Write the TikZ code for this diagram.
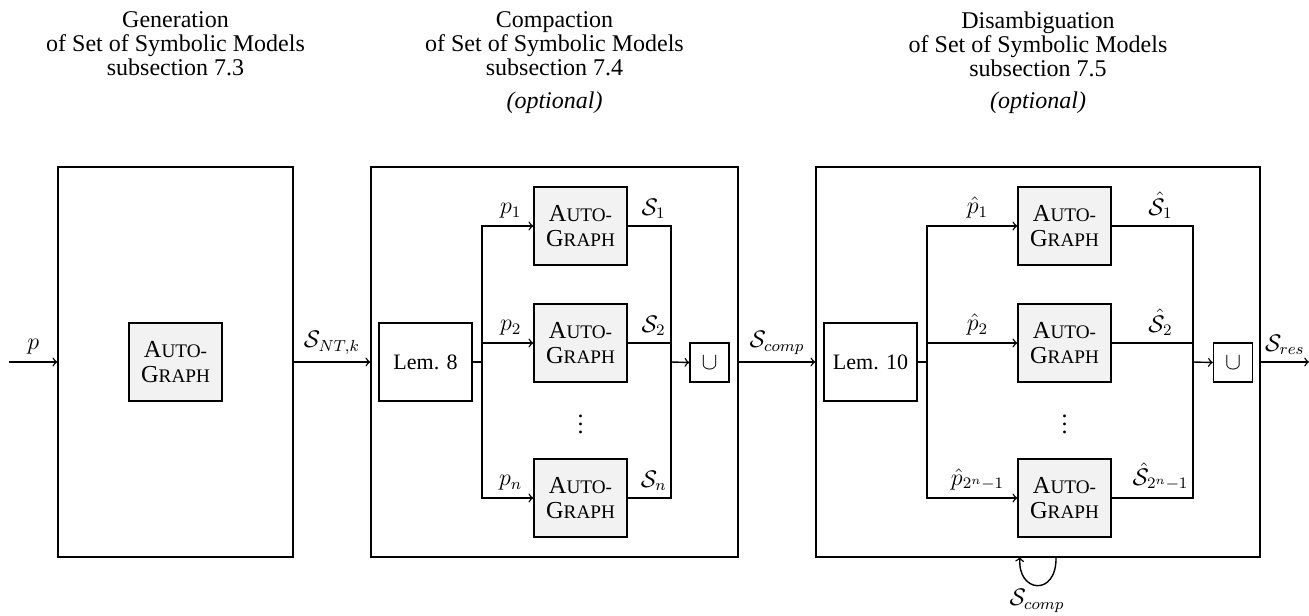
\documentclass[tikz,border=0pt]{standalone}
\usepackage{fontspec}
\setmainfont{Liberation Serif}

\newcommand{\smcp}{\fontsize{9.6}{10}\selectfont}
\newcommand{\autograph}{A{\smcp UTO-}\\G{\smcp RAPH}}

\tikzset{
  stage/.style={draw, minimum width=#1, minimum height=195pt, inner sep=0pt},
  algo/.style={draw, fill=black!5, minimum width=46.5pt, minimum height=39pt,
    align=center, inner sep=0pt, font=\fontsize{12.2}{12.8}\selectfont},
  lemma/.style={draw, minimum width=46.5pt, minimum height=39pt, inner sep=0pt,
    font=\fontsize{11}{13}\selectfont},
  union/.style={draw, minimum size=19.5pt, inner sep=0pt},
  heading/.style={align=center, font=\fontsize{12}{12}\selectfont},
}

\begin{document}
\begin{tikzpicture}[x=0.5pt, y=-0.5pt, >=to, line width=0.7pt,
    font=\fontsize{12}{14}\selectfont]
  \useasboundingbox (0,0) rectangle (1309,615);

  % headings
  \node[heading] (hd1) at (175.5,44) {Generation\\of Set of Symbolic Models\\subsection 7.3};
  \node[heading] (hd2) at (554.5,44) {Compaction\\of Set of Symbolic Models\\subsection 7.4};
  \node[heading] (hd3) at (1038,44) {Disambiguation\\of Set of Symbolic Models\\subsection 7.5};
  \node[heading] (opt2) at (554.5,103) {\textit{(optional)}};
  \node[heading] (opt3) at (1038,103) {\textit{(optional)}};

  % generation
  \node[stage=117.5pt] (gen) at (175.5,362) {};
  \node[algo] (ag0) at (175.5,362) {\autograph};
  \coordinate (in) at (9,362);
  \draw[->] (in) -- node[above] {$p$} (gen.west);

  % compaction
  \node[stage=183.5pt] (comp) at (554.5,362) {};
  \node[lemma] (lem8) at (425.5,362) {Lem. 8};
  \node[algo] (ca1) at (580.5,226) {\autograph};
  \node[algo] (ca2) at (580.5,343) {\autograph};
  \node[algo] (can) at (580.5,498) {\autograph};
  \node (cdots) at (580.5,418) {$\vdots$};
  \node[union] (cup1) at (709.5,362.5) {$\cup$};
  \coordinate (cfork) at (482,362);
  \coordinate (cjoin) at (671,362);
  \draw (lem8.east) -- (cfork);
  \foreach \n/\i in {ca1/1,ca2/2,can/n}{
    \draw[->] (cfork) |- node[pos=0.78,above] {$p_\i$} (\n.west);
    \draw (\n.east) -| node[pos=0.3,above] {$\mathcal{S}_\i$} (cjoin);
  }
  \draw[->] (cjoin) -- (cup1.west);
  \draw[->] (gen.east) -- node[above] {$\mathcal{S}_{NT,k}$} (comp.west);

  % disambiguation
  \node[stage=222pt] (dis) at (1038,362) {};
  \node[lemma] (lem10) at (870.5,362) {Lem. 10};
  \node[algo] (da1) at (1064.5,226) {\autograph};
  \node[algo] (da2) at (1064.5,343) {\autograph};
  \node[algo] (dan) at (1064.5,498) {\autograph};
  \node (ddots) at (1064.5,418) {$\vdots$};
  \node[union] (cup2) at (1233,362.5) {$\cup$};
  \coordinate (dfork) at (927,362);
  \coordinate (djoin) at (1193,362);
  \draw (lem10.east) -- (dfork);
  \foreach \n/\i in {da1/1,da2/2,dan/{2^n-1}}{
    \draw[->] (dfork) |- node[pos=0.78,above] {$\hat{p}_{\i}$} (\n.west);
    \draw (\n.east) -| node[pos=0.3,above] {$\hat{\mathcal{S}}_{\i}$} (djoin);
  }
  \draw[->] (djoin) -- (cup2.west);
  \draw[->] (comp.east) -- node[above] {$\mathcal{S}_{comp}$} (dis.west);

  % output and feedback
  \coordinate (out) at (1309,362);
  \draw[->] (dis.east) -- node[above] {$\mathcal{S}_{res}$} (out);
  \coordinate (lpa) at (1056,557);
  \coordinate (lpb) at (1020,557);
  \draw[->] (lpa) .. controls (1057,597) and (1017,593) .. (lpb);
  \node (fb) at (1037,601) {$\mathcal{S}_{comp}$};
\end{tikzpicture}
\end{document}
